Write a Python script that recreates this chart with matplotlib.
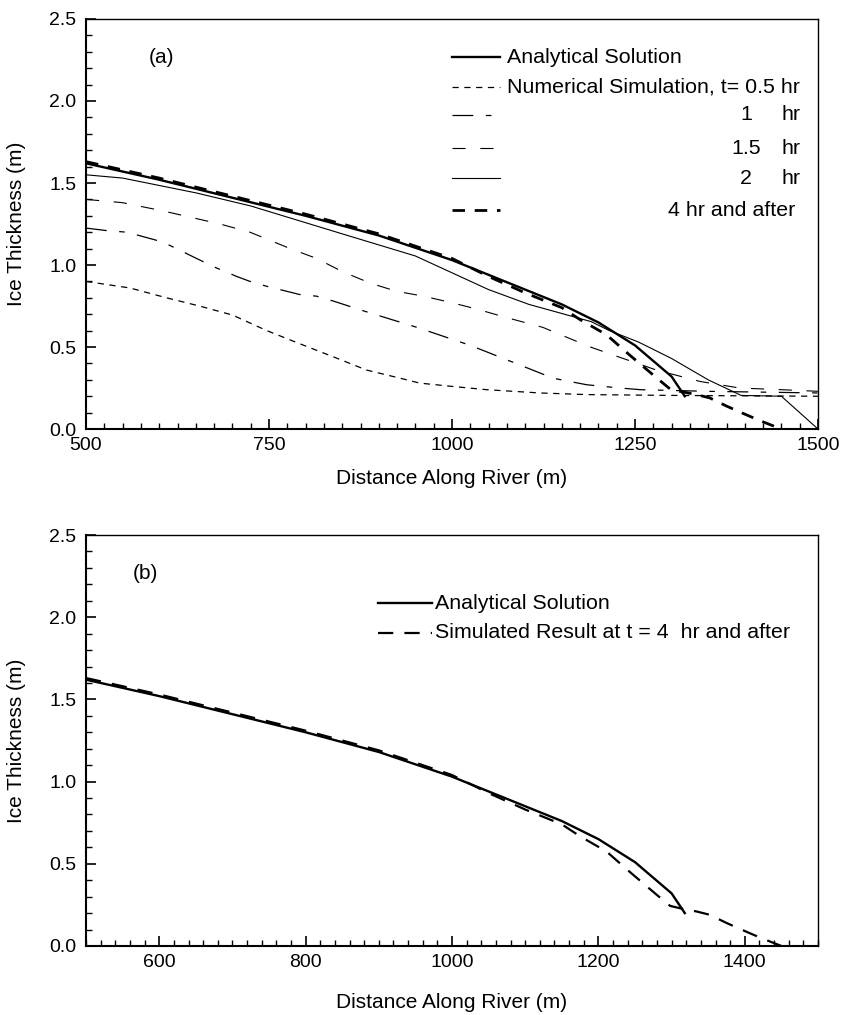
import matplotlib
matplotlib.use("Agg")
import matplotlib.pyplot as plt
from matplotlib.ticker import MultipleLocator, FixedLocator

plt.rcParams['font.family'] = ['Liberation Sans', 'DejaVu Sans']
plt.rcParams['lines.scale_dashes'] = False

# analytical steady-state ice thickness
x_analytical = [500, 600, 700, 800, 900, 1000, 1050, 1100, 1150, 1200, 1250, 1300, 1318]
h_analytical = [1.62, 1.52, 1.41, 1.30, 1.18, 1.03, 0.94, 0.85, 0.76, 0.65, 0.51, 0.32, 0.20]

# numerical simulation, t = 4 hr and after
x_4h = [500, 600, 700, 800, 900, 1000, 1050, 1100, 1150, 1175, 1211, 1243, 1280, 1298,
        1311, 1334, 1352, 1375, 1402, 1423, 1450]
h_4h = [1.63, 1.53, 1.42, 1.31, 1.19, 1.04, 0.93, 0.83, 0.74, 0.667, 0.575, 0.45, 0.31, 0.244,
        0.23, 0.21, 0.19, 0.14, 0.087, 0.047, 0.0]

# t = 0.5 hr
x_05h = [500, 560, 610, 655, 700, 747, 792, 838, 883, 929, 956, 1000, 1047, 1120, 1184, 1300, 1500]
h_05h = [0.90, 0.86, 0.80, 0.75, 0.695, 0.60, 0.52, 0.44, 0.36, 0.31, 0.28, 0.26, 0.24, 0.22,
         0.21, 0.205, 0.20]

# t = 1 hr
x_1h = [500, 528, 556, 605, 628, 674, 706, 724, 747, 792, 815, 838, 883, 952, 1025, 1093,
        1138, 1184, 1230, 1257, 1348, 1500]
h_1h = [1.225, 1.21, 1.20, 1.14, 1.09, 0.99, 0.93, 0.90, 0.87, 0.82, 0.81, 0.78, 0.715, 0.62,
        0.51, 0.39, 0.31, 0.27, 0.25, 0.24, 0.23, 0.22]

# t = 1.5 hr
x_15h = [500, 550, 605, 683, 724, 779, 815, 850, 888, 924, 961, 1000, 1035, 1070, 1124, 1189,
         1234, 1279, 1339, 1393, 1450, 1500]
h_15h = [1.40, 1.38, 1.33, 1.25, 1.20, 1.10, 1.04, 0.96, 0.89, 0.84, 0.81, 0.77, 0.73, 0.685,
         0.62, 0.50, 0.43, 0.36, 0.29, 0.25, 0.24, 0.23]

# t = 2 hr
x_2h = [500, 550, 650, 725, 850, 950, 1050, 1105, 1190, 1215, 1255, 1300, 1350, 1395, 1450, 1500]
h_2h = [1.55, 1.53, 1.44, 1.36, 1.19, 1.055, 0.85, 0.76, 0.655, 0.60, 0.53, 0.43, 0.30, 0.205,
        0.20, 0.0]

sty_analytical = dict(color='black', lw=1.7, ls='-')
sty_05h = dict(color='black', lw=0.9, ls=(0, (4.5, 4)))
sty_1h = dict(color='black', lw=0.9, ls=(0, (15, 9, 4, 9)))
sty_15h = dict(color='black', lw=0.8, ls=(0, (9.5, 10.5)))
sty_2h = dict(color='black', lw=0.8, ls='-')
sty_4h = dict(color='black', lw=2.0, ls=(0, (9, 7)))
sty_sim_b = dict(color='black', lw=1.6, ls=(0, (11, 8)))

fig = plt.figure(figsize=(8.46, 10.15), dpi=100)
ax1 = fig.add_axes([0.1017, 0.5773, 0.8652, 0.4040])
ax2 = fig.add_axes([0.1017, 0.0680, 0.8652, 0.4049])


def style_axes(ax, major, minor, ticks=None):
    ax.set_xlim(500, 1500)
    ax.set_ylim(0, 2.5)
    if ticks is not None:
        ax.xaxis.set_major_locator(FixedLocator(ticks))
    else:
        ax.xaxis.set_major_locator(MultipleLocator(major))
    ax.xaxis.set_minor_locator(MultipleLocator(minor))
    ax.yaxis.set_major_locator(MultipleLocator(0.5))
    ax.yaxis.set_minor_locator(MultipleLocator(0.1))
    ax.yaxis.set_major_formatter(plt.FormatStrFormatter('%.1f'))
    ax.tick_params(which='both', direction='in', top=False, right=False, labelsize=14)
    ax.tick_params(which='major', length=7, width=1.2)
    ax.tick_params(which='minor', length=4, width=1.0)
    ax.tick_params(axis='y', pad=7)
    ax.tick_params(axis='x', pad=6)
    for s in ('left', 'bottom'):
        ax.spines[s].set_linewidth(1.5)
    for s in ('top', 'right'):
        ax.spines[s].set_linewidth(1.0)
    ax.set_xlabel('Distance Along River (m)', fontsize=15)
    ax.set_ylabel('Ice Thickness (m)', fontsize=15)
    ax.yaxis.set_label_coords(-0.082, 0.5)


def legend_row(ax, x0, x1, y, sty):
    ax.plot([x0, x1], [y, y], transform=ax.transAxes, **sty)


# ---- panel (a)
ax = ax1
ax.plot(x_05h, h_05h, **sty_05h)
ax.plot(x_1h, h_1h, **sty_1h)
ax.plot(x_15h, h_15h, **sty_15h)
ax.plot(x_2h, h_2h, **sty_2h)
ax.plot(x_4h, h_4h, **sty_4h)
ax.plot(x_analytical, h_analytical, **sty_analytical)
style_axes(ax, 250, 25)
ax.xaxis.set_label_coords(0.5, -0.097)

ax.text(0.1025, 0.905, '(a)', transform=ax.transAxes, fontsize=15, ha='center', va='center')

hx0, hx1, tx = 0.500, 0.5656, 0.575
rows = [0.907, 0.834, 0.766, 0.685, 0.612, 0.534]
legend_row(ax, hx0, hx1, rows[0], sty_analytical)
legend_row(ax, hx0, hx1, rows[1], sty_05h)
legend_row(ax, hx0, hx1, rows[2], sty_1h)
legend_row(ax, hx0, hx1, rows[3], sty_15h)
legend_row(ax, hx0, hx1, rows[4], sty_2h)
legend_row(ax, hx0, hx1, rows[5], sty_4h)
kw = dict(transform=ax.transAxes, fontsize=15.4, va='center')
ax.text(tx, rows[0], 'Analytical Solution', ha='left', **kw)
ax.text(tx, rows[1], 'Numerical Simulation, t= 0.5 hr', ha='left', **kw)
for y, num in zip(rows[2:5], ['1', '1.5', '2']):
    ax.text(0.9016, y, num, ha='center', **kw)
    ax.text(0.9508, y, 'hr', ha='left', **kw)
ax.text(0.9686, rows[5], '4 hr and after', ha='right', **kw)

# ---- panel (b)
ax = ax2
ax.plot(x_4h, h_4h, **sty_sim_b)
ax.plot(x_analytical, h_analytical, **sty_analytical)
style_axes(ax, 200, 20, ticks=[600, 800, 1000, 1200, 1400])
ax.xaxis.set_label_coords(0.5, -0.114)

ax.text(0.0806, 0.9075, '(b)', transform=ax.transAxes, fontsize=15, ha='center', va='center')
rows_b = [0.8345, 0.7616]
legend_row(ax, 0.399, 0.4727, rows_b[0], sty_analytical)
legend_row(ax, 0.399, 0.4727, rows_b[1], sty_sim_b)
kw = dict(transform=ax.transAxes, fontsize=15.4, va='center', ha='left')
ax.text(0.4768, rows_b[0], 'Analytical Solution', **kw)
ax.text(0.4768, rows_b[1], 'Simulated Result at t = 4  hr and after', **kw)

fig.savefig('out.png', dpi=100)
